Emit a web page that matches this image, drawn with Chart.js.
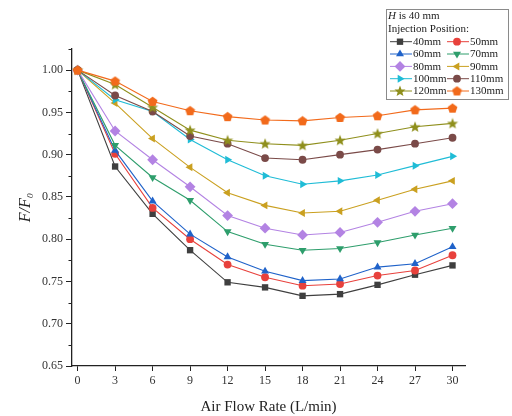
<!DOCTYPE html>
<html>
<head>
<meta charset="utf-8">
<script src="https://cdn.jsdelivr.net/npm/chart.js@4.4.1/dist/chart.umd.min.js"></script>
<style>
  body { margin: 0; background: #fff; }
  #wrap { width: 512px; height: 416px; }
</style>
</head>
<body>
<div id="wrap"><canvas id="flow-chart" width="512" height="416"></canvas></div>
<script>
// Air flow rate (L/min)
const flowRates = [0, 3, 6, 9, 12, 15, 18, 21, 24, 27, 30];
const xTickValues = [0, 3, 6, 9, 12, 15, 18, 21, 24, 27, 30];
const yTickValues = [0.65, 0.70, 0.75, 0.80, 0.85, 0.90, 0.95, 1.00];
const yMinorTicks = [0.675, 0.725, 0.775, 0.825, 0.875, 0.925, 0.975, 1.025];

// F/F0 per injection position
const labels = ['40mm', '50mm', '60mm', '70mm', '80mm', '90mm', '100mm', '110mm', '120mm', '130mm'];
const pos40  = [1.000, 0.886, 0.830, 0.787, 0.749, 0.743, 0.733, 0.735, 0.746, 0.758, 0.769];
const pos50  = [1.000, 0.901, 0.837, 0.800, 0.770, 0.755, 0.745, 0.747, 0.757, 0.763, 0.781];
const pos60  = [1.000, 0.905, 0.845, 0.806, 0.779, 0.762, 0.751, 0.753, 0.767, 0.771, 0.791];
const pos70  = [1.000, 0.911, 0.873, 0.846, 0.809, 0.794, 0.787, 0.789, 0.796, 0.805, 0.813];
const pos80  = [1.000, 0.928, 0.894, 0.862, 0.828, 0.813, 0.805, 0.808, 0.820, 0.833, 0.842];
const pos90  = [1.000, 0.961, 0.919, 0.885, 0.855, 0.840, 0.831, 0.833, 0.846, 0.859, 0.869];
const pos100 = [1.000, 0.965, 0.951, 0.918, 0.894, 0.875, 0.865, 0.869, 0.876, 0.887, 0.898];
const pos110 = [1.000, 0.970, 0.951, 0.922, 0.913, 0.896, 0.894, 0.900, 0.906, 0.913, 0.920];
const pos120 = [1.000, 0.983, 0.956, 0.929, 0.917, 0.913, 0.911, 0.917, 0.925, 0.933, 0.937];
const pos130 = [1.000, 0.987, 0.963, 0.952, 0.945, 0.941, 0.940, 0.944, 0.946, 0.953, 0.955];
const seriesValues = [pos40, pos50, pos60, pos70, pos80, pos90, pos100, pos110, pos120, pos130];

const colors = ['#3f3f3f', '#e8413c', '#1f62c9', '#2e9e6c', '#b383e3', '#caa020',
                '#1fbcd6', '#7a4a48', '#8f8f1c', '#f26a1b'];

const SERIF = "'Liberation Serif', 'DejaVu Serif', serif";

// Small canvases for marker shapes Chart.js does not have
function makeStar(color) {
    const c = document.createElement('canvas');
    c.width = 12; c.height = 12;
    const g = c.getContext('2d');
    g.fillStyle = color;
    g.beginPath();
    for (let i = 0; i < 10; i++) {
        const r = i % 2 === 0 ? 5.8 : 2.5;
        const a = -Math.PI / 2 + i * Math.PI / 5;
        g.lineTo(6 + r * Math.cos(a), 6.4 + r * Math.sin(a));
    }
    g.closePath();
    g.fill();
    return c;
}
function makePentagon(color) {
    const c = document.createElement('canvas');
    c.width = 11; c.height = 11;
    const g = c.getContext('2d');
    g.fillStyle = color;
    g.beginPath();
    for (let i = 0; i < 5; i++) {
        const a = -Math.PI / 2 + i * 2 * Math.PI / 5;
        g.lineTo(5.5 + 5.1 * Math.cos(a), 5.9 + 5.1 * Math.sin(a));
    }
    g.closePath();
    g.fill();
    return c;
}

const pointStyles = ['rect', 'circle', 'triangle', 'triangle', 'rectRot', 'triangle',
                     'triangle', 'circle', makeStar(colors[8]), makePentagon(colors[9])];
const rotations = [0, 0, 0, 180, 0, 270, 90, 0, 0, 0];
const radii = [4.5, 3.9, 4.6, 4.6, 5.4, 4.6, 4.6, 3.9, 4, 4];

const datasets = labels.map((lab, i) => ({
    label: lab,
    data: flowRates.map((x, j) => ({ x: x, y: seriesValues[i][j] })),
    borderColor: colors[i],
    backgroundColor: colors[i],
    borderWidth: 1.1,
    pointStyle: pointStyles[i],
    rotation: rotations[i],
    pointRadius: radii[i],
    pointBorderWidth: 0,
    pointBackgroundColor: colors[i],
    tension: 0,
    order: 9 - i
}));

// Short minor ticks on the y axis
const minorTicks = {
    id: 'minorTicks',
    afterDraw(chart) {
        const ctx = chart.ctx;
        const y = chart.scales.y;
        ctx.save();
        ctx.strokeStyle = '#222';
        ctx.lineWidth = 1;
        yMinorTicks.forEach(v => {
            const py = Math.round(y.getPixelForValue(v)) + 0.5;
            ctx.beginPath();
            ctx.moveTo(y.right - 3.5, py);
            ctx.lineTo(y.right, py);
            ctx.stroke();
        });
        ctx.restore();
    }
};

// Boxed legend in the top right corner, drawn with the dataset styles
const boxLegend = {
    id: 'boxLegend',
    afterDraw(chart) {
        const ctx = chart.ctx;
        ctx.save();
        ctx.fillStyle = '#fff';
        ctx.fillRect(386, 9, 122, 90);
        ctx.strokeStyle = '#8a8a8a';
        ctx.lineWidth = 1;
        ctx.strokeRect(386.5, 9.5, 122, 90);

        ctx.fillStyle = '#222';
        ctx.textBaseline = 'middle';
        ctx.textAlign = 'left';
        ctx.font = 'italic 11px ' + SERIF;
        ctx.fillText('H', 388, 16);
        const hw = ctx.measureText('H').width;
        ctx.font = '11px ' + SERIF;
        ctx.fillText(' is 40 mm', 388 + hw, 16);
        ctx.fillText('Injection Position:', 388, 29);

        const rowY = [41.7, 54, 66.4, 78.7, 91];
        const colX = [390, 447];
        chart.data.datasets.forEach((ds, i) => {
            const col = i % 2;
            const row = Math.floor(i / 2);
            const x0 = colX[col];
            const y0 = rowY[row];
            ctx.strokeStyle = ds.borderColor;
            ctx.lineWidth = 1;
            ctx.beginPath();
            ctx.moveTo(x0, y0);
            ctx.lineTo(x0 + 22, y0);
            ctx.stroke();
            ctx.fillStyle = ds.backgroundColor;
            Chart.helpers.drawPoint(ctx, {
                pointStyle: ds.pointStyle,
                rotation: ds.rotation,
                radius: ds.pointRadius,
                borderWidth: 0
            }, x0 + 10, y0);
            ctx.fillStyle = '#222';
            ctx.font = '11px ' + SERIF;
            ctx.fillText(ds.label, x0 + 23, y0 + 0.5);
        });
        ctx.restore();
    }
};

const ctx = document.getElementById('flow-chart').getContext('2d');
new Chart(ctx, {
    type: 'line',
    data: { datasets: datasets },
    options: {
        responsive: false,
        animation: false,
        devicePixelRatio: 1,
        layout: { padding: { top: 49, right: 47, left: 0, bottom: 0 } },
        plugins: {
            legend: { display: false },
            tooltip: { enabled: false }
        },
        scales: {
            x: {
                type: 'linear',
                min: -0.45,
                max: 31,
                afterBuildTicks: scale => { scale.ticks = xTickValues.map(v => ({ value: v })); },
                afterFit: scale => { scale.height = 50; },
                grid: { drawOnChartArea: false, tickLength: 5, tickColor: '#222', tickWidth: 1 },
                border: { display: true, color: '#222', width: 1.3 },
                ticks: {
                    padding: 3,
                    maxRotation: 0,
                    color: '#333',
                    font: { family: SERIF, size: 12 }
                },
                title: {
                    display: true,
                    text: 'Air Flow Rate (L/min)',
                    color: '#222',
                    padding: { top: 0, bottom: 0 },
                    font: { family: SERIF, size: 15 }
                }
            },
            y: {
                min: 0.65,
                max: 1.025,
                afterBuildTicks: scale => { scale.ticks = yTickValues.map(v => ({ value: v })); },
                afterFit: scale => { scale.width = 72; },
                grid: { drawOnChartArea: false, tickLength: 6, tickColor: '#222', tickWidth: 1 },
                border: { display: true, color: '#222', width: 1.3 },
                ticks: {
                    padding: 3,
                    color: '#333',
                    font: { family: SERIF, size: 12 },
                    callback: v => v.toFixed(2)
                },
                title: {
                    display: true,
                    text: 'F/F\u2080',
                    color: '#222',
                    padding: { top: 16, bottom: 0 },
                    font: { family: SERIF, size: 16, style: 'italic' }
                }
            }
        }
    },
    plugins: [minorTicks, boxLegend]
});
</script>
</body>
</html>
